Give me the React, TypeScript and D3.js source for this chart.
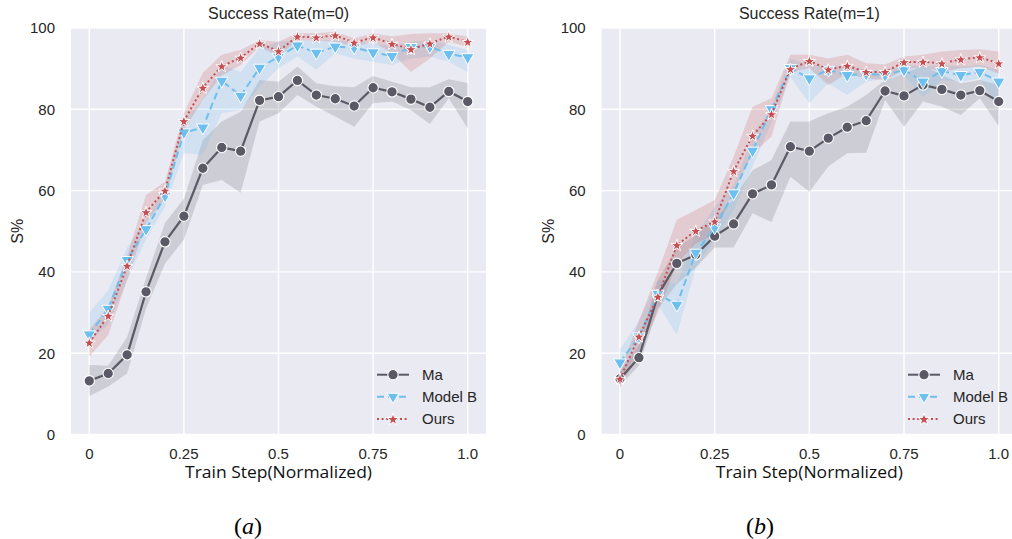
import React from "react";
import * as d3 from "d3";

const steps = [0, 0.05, 0.1, 0.15, 0.2, 0.25, 0.3, 0.35, 0.4, 0.45, 0.5, 0.55, 0.6, 0.65, 0.7, 0.75, 0.8, 0.85, 0.9, 0.95, 1.0];
const xTicks = [0, 0.25, 0.5, 0.75, 1.0];
const xTickLabels = ["0", "0.25", "0.5", "0.75", "1.0"];
const yTicks = [0, 20, 40, 60, 80, 100];
const seriesNames = ["Ma", "Model B", "Ours"];
const titles = ["Success Rate(m=0)", "Success Rate(m=1)"];
const captions = ["a", "b"];

// m = 0
const maM0 = [13.2, 15.0, 19.6, 35.1, 47.4, 53.7, 65.5, 70.6, 69.7, 82.2, 83.1, 87.1, 83.5, 82.6, 80.8, 85.3, 84.3, 82.5, 80.5, 84.4, 81.9];
const maM0Hi = [17.1, 16.9, 24, 38.5, 52, 58, 72.4, 77, 79.4, 87.2, 86.8, 90.5, 86.4, 85.7, 85.4, 88.2, 86.8, 85.4, 85.4, 87.4, 86.5];
const maM0Lo = [9.5, 11.8, 15, 31, 42, 48, 61.4, 62.6, 59.5, 77, 79, 83.5, 80.6, 78.2, 75.7, 81.5, 81.9, 79.8, 76.4, 82.7, 75.3];
const mbM0 = [24.6, 30.9, 42.9, 50.5, 58.7, 74.3, 75.5, 87, 83.3, 90.2, 92.9, 95.7, 93.9, 95.4, 95.2, 94, 93.1, 95.3, 95.4, 93.6, 92.8];
const mbM0Hi = [30, 35.5, 46, 53, 61, 77.4, 82.3, 90.9, 89.2, 95, 96.6, 97, 96.9, 97, 96.6, 96.2, 95.4, 96.6, 97, 95.8, 94.6];
const mbM0Lo = [23, 27, 38, 48, 56, 69.2, 68.8, 79, 79.8, 85.6, 90.1, 93, 89.7, 93.8, 92.5, 91.7, 90.9, 92.5, 93, 91.7, 89.2];
const ourM0 = [22.6, 29.2, 41.5, 54.7, 60, 77.1, 85.3, 90.6, 92.7, 96.2, 94.3, 97.9, 97.7, 98.2, 96.4, 97.7, 96.1, 94.8, 96.2, 97.9, 96.6];
const ourM0Hi = [25.7, 31.5, 44, 58.9, 62.2, 79, 89, 93.4, 94.6, 97, 96.6, 98.7, 98.7, 99.1, 97.5, 98.7, 97.9, 98.5, 98.7, 98.7, 97.9];
const ourM0Lo = [19.1, 24.5, 38, 52, 58, 75, 82.3, 88.3, 90.9, 95.4, 93, 97, 96.9, 96.6, 95.4, 96.6, 93.8, 89.2, 92.5, 96.6, 95.4];

// m = 1
const maM1 = [13.7, 18.9, 34.3, 42.1, 44.2, 48.8, 51.8, 59.2, 61.4, 70.8, 69.7, 72.9, 75.6, 77.2, 84.5, 83.3, 86, 84.9, 83.5, 84.6, 81.9];
const maM1Hi = [15.5, 22, 38, 46, 49, 53, 58, 65, 67.5, 77, 77, 79, 80.6, 83.5, 87.2, 88.7, 90.9, 88.4, 86.4, 87.2, 86];
const maM1Lo = [12, 17, 31, 37, 41, 46, 46, 54.4, 52.3, 63.4, 59.7, 65.9, 69.2, 69.3, 82.3, 75.7, 81.9, 80.6, 78.6, 82.7, 75.9];
const mbM1 = [17.7, 24.1, 34.6, 31.9, 44.7, 50.9, 59.3, 69.8, 80, 90.1, 87.6, 89.7, 88.4, 88.7, 88.4, 89.7, 86.8, 89.4, 88.4, 89.2, 86.8];
const mbM1Hi = [21, 28, 38, 37, 49, 56, 61.4, 73, 80.6, 92.5, 90.9, 90.9, 90.5, 89.7, 89.4, 90.9, 90.5, 90.9, 90.5, 90.9, 89.7];
const mbM1Lo = [14.5, 20, 32, 24.5, 41, 48, 55.2, 66, 76.6, 88, 81.5, 86.4, 83.5, 86.8, 87.6, 88.4, 83.1, 87.2, 86.8, 87.6, 80.6];
const ourM1 = [13.7, 24.1, 33.9, 46.6, 50.1, 52.4, 64.8, 73.5, 78.8, 89.9, 91.9, 89.8, 90.7, 89.2, 89.2, 91.6, 91.7, 91.3, 92.3, 92.8, 91.3];
const ourM1Hi = [15.5, 28, 40, 52.8, 55.2, 57.7, 68.3, 80.6, 82.7, 93.4, 93.4, 92.5, 93.4, 91.3, 91, 93, 93.4, 94.2, 94.6, 94.8, 94.2];
const ourM1Lo = [11.5, 20, 30, 42, 47, 49, 60, 69, 73.3, 89.2, 90.1, 86, 88.8, 87.6, 87.2, 89.7, 90.5, 89.2, 90.1, 90.5, 88.8];

const panelData = [
  [
    { mean: maM0, hi: maM0Hi, lo: maM0Lo },
    { mean: mbM0, hi: mbM0Hi, lo: mbM0Lo },
    { mean: ourM0, hi: ourM0Hi, lo: ourM0Lo },
  ],
  [
    { mean: maM1, hi: maM1Hi, lo: maM1Lo },
    { mean: mbM1, hi: mbM1Hi, lo: mbM1Lo },
    { mean: ourM1, hi: ourM1Hi, lo: ourM1Lo },
  ],
];

const COLORS = ["#5b5965", "#6cbfee", "#c44e52"];
const DASH = [null, "7,4", "2,2.6"];
const FONT = "'Liberation Sans', Arial, sans-serif";
const TXT = "#262626";

const panels = [
  { left: 71, x0: 89.3, x1: 467.7, capX: 248 },
  { left: 601.7, x0: 620, x1: 998.7, capX: 760 },
];
const TOP = 28;
const BOTTOM = 434.5;

function Marker({ kind, x, y, color, legend }: any) {
  if (kind === 0) {
    return <circle cx={x} cy={y} r={5.2} fill={color} stroke="#fff" strokeWidth={1.1} />;
  }
  if (kind === 1) {
    const p = d3.symbol().type(d3.symbolTriangle).size(legend ? 60 : 68)();
    return <path d={p as string} transform={`translate(${x},${y}) rotate(180)`} fill={color} stroke="#fff" strokeWidth={1} />;
  }
  const p = d3.symbol().type(d3.symbolStar).size(legend ? 48 : 44)();
  return <path d={p as string} transform={`translate(${x},${y + 0.5})`} fill={color} stroke="#fff" strokeWidth={1} />;
}

function Panel({ pi }: { pi: number }) {
  const pn = panels[pi];
  const x = d3.scaleLinear().domain([0, 1]).range([pn.x0, pn.x1]);
  const y = d3.scaleLinear().domain([0, 100]).range([BOTTOM, TOP]);
  const right = pn.x1 + (pn.x0 - pn.left);
  const data = panelData[pi];
  const area = (s: any) =>
    d3
      .area<number>()
      .x((_, i) => x(steps[i]))
      .y0((_, i) => y(s.lo[i]))
      .y1((_, i) => y(s.hi[i]))(s.mean) as string;
  const line = (s: any) =>
    d3
      .line<number>()
      .x((_, i) => x(steps[i]))
      .y((d) => y(d))(s.mean) as string;
  const cx = (pn.x0 + pn.x1) / 2;
  const legX = right - 109;
  const legY = [374.7, 396.7, 419];
  return (
    <g>
      <rect x={pn.left} y={TOP} width={right - pn.left} height={BOTTOM - TOP} fill="#eaeaf2" />
      {yTicks.map((t) => (
        <line key={"gy" + t} x1={pn.left} x2={right} y1={y(t)} y2={y(t)} stroke="#fff" strokeWidth={1.4} />
      ))}
      {xTicks.map((t) => (
        <line key={"gx" + t} x1={x(t)} x2={x(t)} y1={TOP} y2={BOTTOM} stroke="#fff" strokeWidth={1.4} />
      ))}
      {data.map((s, k) => (
        <path key={"a" + k} d={area(s)} fill={COLORS[k]} fillOpacity={0.2} stroke="none" />
      ))}
      {data.map((s, k) => (
        <g key={"l" + k}>
          <path
            d={line(s)}
            fill="none"
            stroke={COLORS[k]}
            strokeWidth={k === 0 ? 2.2 : 2}
            strokeDasharray={DASH[k] || undefined}
          />
          {s.mean.map((v, i) => (
            <Marker key={i} kind={k} x={x(steps[i])} y={y(v)} color={COLORS[k]} />
          ))}
        </g>
      ))}
      {yTicks.map((t) => (
        <text key={"ty" + t} x={pn.left - 16} y={y(t)} dy="0.36em" textAnchor="end" fontSize={15} fill={TXT} fontFamily={FONT}>
          {t}
        </text>
      ))}
      {xTicks.map((t, i) => (
        <text key={"tx" + t} x={x(t)} y={459} textAnchor="middle" fontSize={15} fill={TXT} fontFamily={FONT}>
          {xTickLabels[i]}
        </text>
      ))}
      <text x={cx} y={19} textAnchor="middle" fontSize={16} fill={TXT} fontFamily={FONT}>
        {titles[pi]}
      </text>
      <text
        x={cx}
        y={478}
        textAnchor="middle"
        fontSize={17}
        fill="#111"
        fontFamily="'Open Sans', 'Noto Sans', sans-serif"
        textLength={187}
        lengthAdjust="spacingAndGlyphs"
      >
        Train Step(Normalized)
      </text>
      <text
        transform={`translate(${pn.left - 48},${(TOP + BOTTOM) / 2}) rotate(-90)`}
        textAnchor="middle"
        fontSize={16}
        fill={TXT}
        fontFamily={FONT}
      >
        S%
      </text>
      {seriesNames.map((nm, k) => (
        <g key={"lg" + k}>
          <line
            x1={legX}
            x2={legX + 32}
            y1={legY[k]}
            y2={legY[k]}
            stroke={COLORS[k]}
            strokeWidth={2}
            strokeDasharray={DASH[k] || undefined}
          />
          <Marker kind={k} x={legX + 16} y={legY[k]} color={COLORS[k]} legend />
          <text x={legX + 45} y={legY[k]} dy="0.36em" fontSize={15} fill={TXT} fontFamily={FONT}>
            {nm}
          </text>
        </g>
      ))}
      <text x={pn.capX} y={534} textAnchor="middle" fontSize={24} fill="#000" fontFamily="'Liberation Serif', 'DejaVu Serif', serif">
        (<tspan fontStyle="italic">{captions[pi]}</tspan>)
      </text>
    </g>
  );
}

export default function App() {
  return (
    <svg
      width={1012}
      height={539}
      style={{ position: "absolute", left: 0, top: 0, background: "#fff" }}
    >
      <rect width={1012} height={539} fill="#fff" />
      <Panel pi={0} />
      <Panel pi={1} />
    </svg>
  );
}
